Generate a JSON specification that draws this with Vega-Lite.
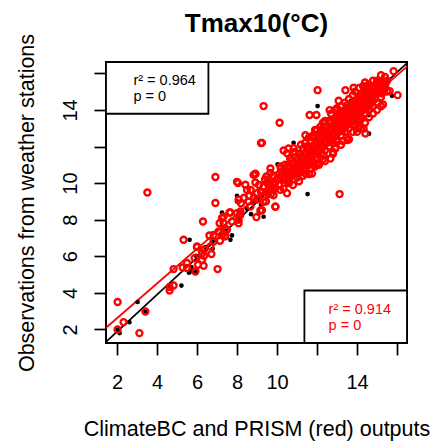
{
"$schema":"https://vega.github.io/schema/vega-lite/v6.json",
"width":301,"height":281,
"autosize":{"type":"none"},
"padding":{"left":106,"top":62,"right":23,"bottom":104},
"background":"white",
"config":{"view":{"stroke":"black","strokeWidth":2},"font":"Liberation Sans"},
"title":{"text":"Tmax10(°C)","font":"Liberation Sans","fontSize":26,"fontWeight":"bold","anchor":"middle","baseline":"alphabetic","frame":"group","offset":2,"dy":27,"color":"black"},
"datasets":{
"bc":[
{"x":2.13,"y":1.80},{"x":2.62,"y":2.40},{"x":3.03,"y":3.50},{"x":3.42,"y":2.98},{"x":2.03,"y":2.0},{"x":5.22,"y":4.40},{"x":5.63,"y":6.90},{"x":5.67,"y":5.26},{"x":5.78,"y":5.17},{"x":5.72,"y":5.41},{"x":5.92,"y":5.08},{"x":5.95,"y":6.03},{"x":6.42,"y":6.50},{"x":6.78,"y":6.41},{"x":6.75,"y":6.90},{"x":7.25,"y":8.39},{"x":7.67,"y":6.90},{"x":7.75,"y":7.14},{"x":8.0,"y":9.31},{"x":8.0,"y":9.0},{"x":8.12,"y":8.0},{"x":7.42,"y":7.4},{"x":6.0,"y":5.2},{"x":4.63,"y":4.4},{"x":5.6,"y":5.1},
{"x":12.03,"y":14.21},{"x":10.83,"y":12.20},{"x":11.53,"y":9.40},{"x":10.03,"y":11.02},{"x":11.08,"y":10.44},{"x":15.75,"y":14.77},{"x":14.58,"y":13.72},{"x":9.33,"y":8.16},{"x":9.08,"y":8.34},{"x":14.6,"y":12.7},
{"x":8.5,"y":8.6},{"x":8.8,"y":9.0},{"x":9.1,"y":9.2},{"x":9.4,"y":9.6},{"x":9.6,"y":9.3},{"x":9.9,"y":9.8},{"x":9.2,"y":8.8},{"x":8.7,"y":8.3},
{"x":10.2,"y":10.1},{"x":10.5,"y":10.4},{"x":10.8,"y":10.6},{"x":11.0,"y":10.9},{"x":11.2,"y":11.1},{"x":11.4,"y":11.5},{"x":11.6,"y":11.3},{"x":11.8,"y":11.9},{"x":12.0,"y":11.7},{"x":12.2,"y":12.2},{"x":12.4,"y":12.0},{"x":12.6,"y":12.6},{"x":12.8,"y":12.3},{"x":13.0,"y":13.0},{"x":13.2,"y":12.8},{"x":13.4,"y":13.4},{"x":13.6,"y":13.2},{"x":13.8,"y":13.8},{"x":14.0,"y":13.6},{"x":14.2,"y":14.2},{"x":14.4,"y":14.1},{"x":14.6,"y":14.6},{"x":14.8,"y":14.5},{"x":15.0,"y":15.0},{"x":15.2,"y":15.2},{"x":15.4,"y":15.4},{"x":13.0,"y":12.1},{"x":14.0,"y":12.9},{"x":12.5,"y":11.4},{"x":11.5,"y":10.6},{"x":13.7,"y":14.5},{"x":14.5,"y":15.3},{"x":15.1,"y":15.6}
],
"pr":[
{"x":2.03,"y":3.50},{"x":2.33,"y":2.40},{"x":2.03,"y":2.0},{"x":3.12,"y":1.80},{"x":3.42,"y":2.98},{"x":3.52,"y":9.49},{"x":4.63,"y":4.32},{"x":4.63,"y":4.13},{"x":4.83,"y":4.40},{"x":4.83,"y":5.30},{"x":5.28,"y":5.39},{"x":5.5,"y":5.63},{"x":5.33,"y":6.90},{"x":5.92,"y":5.17},{"x":5.88,"y":5.90},{"x":6.05,"y":5.54},{"x":6.33,"y":5.48},{"x":6.25,"y":6.17},{"x":6.35,"y":6.03},{"x":6.72,"y":6.12},{"x":6.0,"y":6.50},{"x":6.35,"y":6.36},{"x":7.03,"y":5.30},{"x":6.62,"y":7.14},{"x":7.15,"y":6.85},{"x":7.42,"y":7.12},{"x":7.08,"y":7.36},{"x":7.33,"y":7.81},{"x":7.13,"y":7.81},{"x":7.63,"y":8.39},{"x":7.33,"y":8.17},{"x":6.3,"y":7.90},{"x":6.92,"y":8.91},{"x":6.92,"y":10.33},{"x":8.05,"y":10.0},{"x":8.42,"y":9.91},{"x":8.68,"y":9.63},{"x":8.83,"y":10.45},{"x":8.08,"y":7.81},{"x":8.0,"y":8.36},{"x":8.17,"y":8.45},{"x":7.75,"y":7.90},{"x":7.42,"y":7.49},{"x":7.38,"y":7.08},{"x":6.83,"y":6.81},{"x":5.5,"y":5.36},{"x":6.25,"y":5.81},{"x":6.67,"y":6.54},
{"x":9.2,"y":12.19},{"x":8.92,"y":10.49},{"x":8.92,"y":10.03},{"x":9.47,"y":10.36},{"x":9.67,"y":10.55},{"x":10.17,"y":10.91},{"x":10.67,"y":11.37},{"x":10.5,"y":11.64},{"x":10.83,"y":11.91},{"x":10.37,"y":10.82},{"x":10.0,"y":10.18},{"x":10.5,"y":9.45},{"x":9.92,"y":8.72},{"x":9.17,"y":8.50},{"x":8.97,"y":8.14},{"x":8.17,"y":8.27},{"x":8.08,"y":7.99},{"x":7.67,"y":8.39},{"x":7.25,"y":8.09},{"x":7.5,"y":7.45},{"x":7.25,"y":7.17},{"x":6.83,"y":7.17},{"x":6.0,"y":6.54},{"x":8.08,"y":9.09},{"x":8.58,"y":9.0},{"x":9.92,"y":9.73},{"x":10.17,"y":9.63},{"x":9.5,"y":9.45},{"x":9.33,"y":9.81},{"x":9.67,"y":10.0},{"x":9.0,"y":9.45},{"x":8.5,"y":9.63},{"x":8.67,"y":8.72},
{"x":12.03,"y":15.08},{"x":9.33,"y":14.21},{"x":10.13,"y":13.30},{"x":9.25,"y":12.20},{"x":10.33,"y":11.78},{"x":13.13,"y":9.40},{"x":11.63,"y":13.72},{"x":11.97,"y":13.72},{"x":12.63,"y":13.99},{"x":13.08,"y":14.50},{"x":13.42,"y":15.08},{"x":13.83,"y":15.21},{"x":14.5,"y":15.30},{"x":15.0,"y":15.30},{"x":15.83,"y":16.12},{"x":16.03,"y":14.81},{"x":15.63,"y":15.03},{"x":15.33,"y":15.17},{"x":14.42,"y":12.71},{"x":13.53,"y":12.35},{"x":12.92,"y":11.89},{"x":12.67,"y":11.34},{"x":11.75,"y":10.52},{"x":11.42,"y":10.52},{"x":9.92,"y":8.70},{"x":9.25,"y":8.52},{"x":8.0,"y":10.07},{"x":8.92,"y":10.52},{"x":9.67,"y":10.80},{"x":10.67,"y":11.34},{"x":10.58,"y":11.89},{"x":11.42,"y":12.62},{"x":11.75,"y":12.53},{"x":12.17,"y":13.08},{"x":12.42,"y":13.35},{"x":13.17,"y":13.93},{"x":13.5,"y":14.26},{"x":14.33,"y":12.98},{"x":13.92,"y":13.08},{"x":14.17,"y":13.44},{"x":13.0,"y":12.26},{"x":12.33,"y":11.53},{"x":11.67,"y":11.16},{"x":11.0,"y":10.62},{"x":10.33,"y":9.70},{"x":9.83,"y":9.34},{"x":9.33,"y":8.98},
{"x":9.5,"y":10.0},{"x":9.8,"y":10.4},{"x":10.1,"y":10.5},{"x":10.3,"y":10.2},{"x":9.6,"y":9.9},{"x":10.2,"y":10.8},{"x":10.4,"y":11.0},{"x":9.1,"y":9.9},{"x":9.4,"y":10.2},
{"x":9.0,"y":9.1},{"x":9.2,"y":9.5},{"x":9.35,"y":9.3},{"x":9.55,"y":9.6},{"x":9.75,"y":9.7},{"x":9.9,"y":10.0},{"x":10.05,"y":10.3},{"x":10.25,"y":10.5},{"x":9.45,"y":9.0},{"x":8.85,"y":9.2},{"x":8.6,"y":9.3},{"x":8.35,"y":9.2},{"x":8.2,"y":8.9},{"x":10.1,"y":9.9},{"x":10.35,"y":10.6},{"x":10.6,"y":10.2},{"x":9.7,"y":9.4},
{"x":10.4,"y":10.3},{"x":10.5,"y":10.9},{"x":10.5,"y":10.1},{"x":10.6,"y":10.6},{"x":10.7,"y":11.2},{"x":10.7,"y":10.4},{"x":10.8,"y":10.8},{"x":10.9,"y":11.4},{"x":10.9,"y":10.5},{"x":11.0,"y":11.0},{"x":11.0,"y":10.3},{"x":11.1,"y":11.6},{"x":11.1,"y":10.8},{"x":11.2,"y":11.2},{"x":11.2,"y":10.6},{"x":11.3,"y":11.9},{"x":11.3,"y":11.0},{"x":11.4,"y":11.4},{"x":11.4,"y":10.8},{"x":11.5,"y":12.0},{"x":11.5,"y":11.2},{"x":11.6,"y":11.6},{"x":11.6,"y":11.0},{"x":11.7,"y":12.3},{"x":11.7,"y":11.4},{"x":11.8,"y":11.8},{"x":11.8,"y":11.1},{"x":11.9,"y":12.5},{"x":11.9,"y":11.6},{"x":12.0,"y":12.1},{"x":12.0,"y":11.4},{"x":12.1,"y":12.7},{"x":12.1,"y":11.8},{"x":12.2,"y":12.3},{"x":12.2,"y":11.6},{"x":12.3,"y":12.9},{"x":12.3,"y":12.0},{"x":12.4,"y":12.5},{"x":12.4,"y":11.8},{"x":12.5,"y":13.1},{"x":12.5,"y":12.2},{"x":12.6,"y":12.7},{"x":12.6,"y":12.0},{"x":12.7,"y":13.3},{"x":12.7,"y":12.4},{"x":12.8,"y":12.9},{"x":12.8,"y":12.2},{"x":12.9,"y":13.5},{"x":12.9,"y":12.6},{"x":13.0,"y":13.1},{"x":13.0,"y":12.4},{"x":13.1,"y":13.7},{"x":13.1,"y":12.8},{"x":13.2,"y":13.3},{"x":13.2,"y":12.6},{"x":13.3,"y":13.9},{"x":13.3,"y":13.0},{"x":13.4,"y":13.5},{"x":13.4,"y":12.8},{"x":13.5,"y":14.1},{"x":13.5,"y":13.2},{"x":13.6,"y":13.7},{"x":13.6,"y":13.0},{"x":13.7,"y":14.3},{"x":13.7,"y":13.4},{"x":13.8,"y":13.9},{"x":13.8,"y":13.2},{"x":13.9,"y":14.5},{"x":13.9,"y":13.6},{"x":14.0,"y":14.1},{"x":14.0,"y":13.4},{"x":14.1,"y":14.7},{"x":14.1,"y":13.8},{"x":14.2,"y":14.3},{"x":14.2,"y":13.6},{"x":14.3,"y":14.9},{"x":14.3,"y":14.0},{"x":14.4,"y":14.5},{"x":14.4,"y":13.8},{"x":14.5,"y":15.0},{"x":14.5,"y":14.2},{"x":14.6,"y":14.7},{"x":14.6,"y":14.0},{"x":14.7,"y":15.2},{"x":14.7,"y":14.4},{"x":14.8,"y":14.9},{"x":14.8,"y":14.2},{"x":14.9,"y":15.3},{"x":14.9,"y":14.6},{"x":15.0,"y":15.0},{"x":15.0,"y":14.4},{"x":15.1,"y":15.4},{"x":15.2,"y":15.2},{"x":15.2,"y":14.7},{"x":15.3,"y":15.5},{"x":15.4,"y":15.3},{"x":15.5,"y":15.6},{"x":15.5,"y":15.0},
{"x":11.9,"y":12.9},{"x":12.4,"y":13.4},{"x":13.2,"y":14.2},{"x":13.6,"y":14.6},{"x":14.6,"y":15.4},{"x":12.1,"y":11.0},{"x":12.8,"y":11.7},{"x":13.5,"y":12.5},{"x":14.2,"y":13.0},{"x":11.3,"y":10.4},{"x":13.9,"y":15.0},{"x":14.3,"y":15.3},{"x":12.9,"y":14.0},
{"x":10.45,"y":10.6},{"x":10.55,"y":10.4},{"x":10.65,"y":10.9},{"x":10.75,"y":10.7},{"x":10.85,"y":11.1},{"x":10.95,"y":10.8},{"x":11.05,"y":11.3},{"x":11.15,"y":11.0},{"x":11.25,"y":11.5},{"x":11.35,"y":11.2},{"x":11.45,"y":11.7},{"x":11.55,"y":11.4},{"x":11.65,"y":11.9},{"x":11.75,"y":11.6},{"x":11.85,"y":12.1},{"x":11.95,"y":11.8},{"x":12.05,"y":12.4},{"x":12.15,"y":12.0},{"x":12.25,"y":12.6},{"x":12.35,"y":12.2},{"x":12.45,"y":12.8},{"x":12.55,"y":12.4},{"x":12.65,"y":13.0},{"x":12.75,"y":12.6},{"x":12.85,"y":13.2},{"x":12.95,"y":12.9},{"x":13.05,"y":13.4},{"x":13.15,"y":13.1},{"x":13.25,"y":13.6},{"x":13.35,"y":13.3},{"x":13.45,"y":13.8},{"x":13.55,"y":13.5},{"x":13.65,"y":14.0},{"x":13.75,"y":13.7},{"x":13.85,"y":14.2},{"x":13.95,"y":13.9},{"x":14.05,"y":14.4},{"x":14.15,"y":14.1},{"x":14.25,"y":14.6},{"x":14.35,"y":14.3},{"x":14.45,"y":14.8},{"x":14.55,"y":14.5},{"x":14.65,"y":15.0},{"x":14.75,"y":14.7},{"x":14.85,"y":15.1},{"x":14.95,"y":14.9},{"x":15.05,"y":15.2},{"x":15.15,"y":15.0},{"x":15.25,"y":15.4},{"x":15.35,"y":15.1},{"x":15.45,"y":15.5},
{"x":11.2,"y":12.1},{"x":11.6,"y":12.5},{"x":12.0,"y":12.9},{"x":12.3,"y":13.3},{"x":12.7,"y":13.8},{"x":13.0,"y":14.1},{"x":13.4,"y":14.4},{"x":13.8,"y":14.8},{"x":14.1,"y":15.2},{"x":14.4,"y":15.5},{"x":14.8,"y":15.6},{"x":15.2,"y":15.9},{"x":11.7,"y":10.8},{"x":12.3,"y":11.3},{"x":12.9,"y":11.9},{"x":13.3,"y":12.3},{"x":13.8,"y":12.8},{"x":14.1,"y":13.1},{"x":14.6,"y":13.6},{"x":15.0,"y":14.0},{"x":15.3,"y":14.3},{"x":10.8,"y":9.9},{"x":11.9,"y":10.9},
{"x":10.6,"y":10.0},{"x":10.9,"y":11.7},{"x":11.1,"y":10.1},{"x":11.4,"y":12.2},{"x":11.6,"y":10.5},{"x":11.8,"y":12.6},{"x":12.0,"y":11.0},{"x":12.2,"y":12.9},{"x":12.4,"y":11.2},{"x":12.6,"y":13.4},{"x":12.8,"y":11.6},{"x":13.0,"y":13.6},{"x":13.2,"y":12.1},{"x":13.4,"y":14.0},{"x":13.6,"y":12.4},{"x":13.8,"y":14.4},{"x":14.0,"y":12.8},{"x":14.2,"y":14.8},{"x":14.4,"y":13.3},{"x":14.6,"y":15.1},{"x":14.8,"y":13.8},{"x":15.0,"y":15.6},{"x":15.2,"y":14.2},{"x":15.4,"y":15.8},
{"x":11.05,"y":10.6},{"x":11.35,"y":11.6},{"x":11.65,"y":11.2},{"x":11.95,"y":12.3},{"x":12.25,"y":11.9},{"x":12.55,"y":12.9},{"x":12.85,"y":12.5},{"x":13.15,"y":13.5},{"x":13.45,"y":13.1},{"x":13.75,"y":14.1},{"x":14.05,"y":13.7},{"x":14.35,"y":14.6},{"x":14.65,"y":14.3},{"x":14.95,"y":15.3},{"x":15.25,"y":14.9},{"x":12.05,"y":11.55},{"x":12.65,"y":12.25},{"x":13.25,"y":12.85},{"x":13.85,"y":13.45},{"x":14.45,"y":14.05},{"x":11.45,"y":10.95},{"x":12.35,"y":12.75},{"x":12.95,"y":13.35},{"x":13.55,"y":13.95},{"x":14.15,"y":14.55},{"x":14.75,"y":15.15}
],
"lines":[
{"s":"ClimateBC","x":1.45,"y":1.32},{"s":"ClimateBC","x":16.5,"y":16.56},
{"s":"PRISM","x":1.45,"y":2.09},{"s":"PRISM","x":16.5,"y":16.37}
],
"boxes":[
{"x":1.45,"x2":6.57,"y":13.79,"y2":16.62},
{"x":11.37,"x2":16.5,"y":1.26,"y2":4.13}
],
"notes":[
{"s":"ClimateBC","t":"r² = 0.964","x":2.82,"y":15.35},
{"s":"ClimateBC","t":"p = 0","x":2.82,"y":14.48},
{"s":"PRISM","t":"r² = 0.914","x":12.58,"y":2.82},
{"s":"PRISM","t":"p = 0","x":12.58,"y":1.95}
]
},
"layer":[
{"data":{"name":"lines"},"mark":{"type":"line","clip":true,"strokeWidth":1.8},
"encoding":{
"x":{"field":"x","type":"quantitative","scale":{"domain":[1.45,16.5],"nice":false,"zero":false},
"axis":{"values":[2,4,6,8,10,12,14,16],"labelExpr":"datum.value==12||datum.value==16?'':datum.label","tickSize":12,"tickWidth":1.7,"tickColor":"black","domain":false,"grid":false,"labelFont":"Liberation Sans","labelFontSize":20,"labelColor":"black","labelPadding":17,"labelFlush":false,"labelOverlap":false,"title":"ClimateBC and PRISM (red) outputs","titleFont":"Liberation Sans","titleFontSize":21.5,"titleFontWeight":"normal","titleColor":"black","titlePadding":26}},
"y":{"field":"y","type":"quantitative","scale":{"domain":[1.26,16.62],"nice":false,"zero":false},
"axis":{"values":[2,4,6,8,10,12,14,16],"labelExpr":"datum.value==12||datum.value==16?'':datum.label","tickSize":12,"tickWidth":1.7,"tickColor":"black","domain":false,"grid":false,"labelFont":"Liberation Sans","labelFontSize":20,"labelColor":"black","labelAngle":-90,"labelAlign":"center","labelBaseline":"alphabetic","labelPadding":18,"labelFlush":false,"labelOverlap":false,"title":"Observations from weather stations","titleFont":"Liberation Sans","titleFontSize":21.5,"titleFontWeight":"normal","titleColor":"black","titleAngle":-90,"titleBaseline":"bottom","titlePadding":22}},
"color":{"field":"s","type":"nominal","scale":{"domain":["ClimateBC","PRISM"],"range":["black","red"]},"legend":null}}},
{"data":{"name":"bc"},"mark":{"type":"circle","color":"black","size":22,"opacity":1},
"encoding":{"x":{"field":"x","type":"quantitative"},"y":{"field":"y","type":"quantitative"}}},
{"data":{"name":"pr"},"mark":{"type":"point","shape":"circle","color":"red","filled":false,"size":36,"strokeWidth":2.4,"opacity":1},
"encoding":{"x":{"field":"x","type":"quantitative"},"y":{"field":"y","type":"quantitative"}}},
{"data":{"name":"boxes"},"mark":{"type":"rect","fill":"white","stroke":"black","strokeWidth":1.8},
"encoding":{"x":{"field":"x","type":"quantitative"},"x2":{"field":"x2"},"y":{"field":"y","type":"quantitative"},"y2":{"field":"y2"}}},
{"data":{"name":"notes"},"mark":{"type":"text","align":"left","baseline":"alphabetic","fontSize":14.5,"font":"Liberation Sans"},
"encoding":{"x":{"field":"x","type":"quantitative"},"y":{"field":"y","type":"quantitative"},"text":{"field":"t"},
"color":{"field":"s","type":"nominal","scale":{"domain":["ClimateBC","PRISM"],"range":["black","red"]},"legend":null}}}
]
}
